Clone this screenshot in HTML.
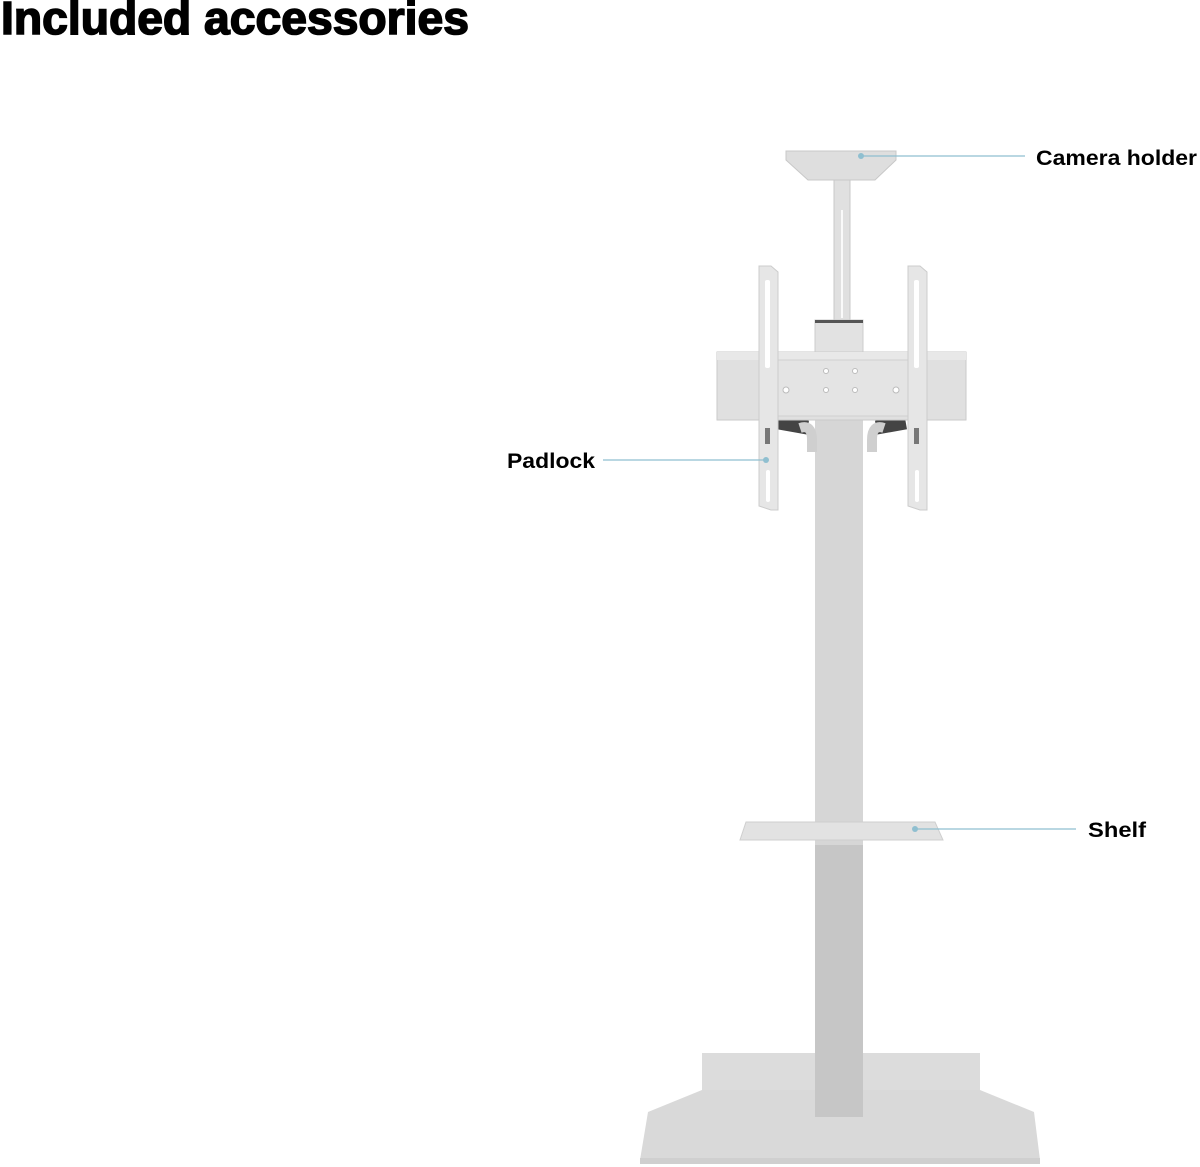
<!DOCTYPE html>
<html><head><meta charset="utf-8"><style>
html,body{margin:0;padding:0;background:#fff;}
svg{display:block;}
text{font-family:"Liberation Sans",sans-serif;font-weight:bold;fill:#000;}
</style></head><body>
<svg width="1200" height="1167" viewBox="0 0 1200 1167" xmlns="http://www.w3.org/2000/svg">
<text x="1" y="34" font-size="46" textLength="468" lengthAdjust="spacingAndGlyphs" stroke="#000" stroke-width="1.6">Included accessories</text>

<!-- base -->
<rect x="702" y="1053" width="278" height="42" fill="#dcdcdc"/>
<polygon points="702,1090 980,1090 1034,1112 1040,1160 640,1160 648,1112" fill="#d9d9d9"/>
<rect x="640" y="1158" width="400" height="6" fill="#cfcfcf"/>

<!-- column -->
<rect x="815" y="420" width="48" height="697" fill="#d6d6d6"/>
<rect x="815" y="845" width="48" height="272" fill="#c6c6c6"/>

<!-- shelf -->
<polygon points="746,822 935,822 943,840 740,840" fill="#e2e2e2" stroke="#cfcfcf" stroke-width="1"/>

<!-- camera holder -->
<rect x="834" y="162" width="16" height="160" fill="#e0e0e0" stroke="#c8c8c8"/>
<line x1="842" y1="210" x2="842" y2="318" stroke="#fafafa" stroke-width="2"/>
<polygon points="786,151 896,151 896,160 875,180 808,180 786,160" fill="#dedede" stroke="#c8c8c8"/>

<!-- upper column block -->
<rect x="815" y="320" width="48" height="34" fill="#e2e2e2" stroke="#cccccc"/>
<rect x="815" y="320" width="48" height="3" fill="#555"/>

<!-- rubber parts -->
<rect x="778" y="418" width="30" height="14" fill="#444" transform="rotate(10 793 425)"/>
<rect x="876" y="418" width="30" height="14" fill="#444" transform="rotate(-10 891 425)"/>
<path d="M800 428 q12 -4 12 12 v12" stroke="#cfcfcf" stroke-width="10" fill="none"/>
<path d="M884 428 q-12 -4 -12 12 v12" stroke="#cfcfcf" stroke-width="10" fill="none"/>

<!-- crossbar -->
<rect x="717" y="352" width="249" height="68" fill="#e0e0e0" stroke="#cacaca"/>
<rect x="717" y="352" width="249" height="8" fill="#e8e8e8"/>
<rect x="778" y="360" width="130" height="56" fill="#e4e4e4" stroke="#d0d0d0"/>
<g fill="#fff" stroke="#bbb">
<circle cx="786" cy="390" r="3"/><circle cx="896" cy="390" r="3"/>
<circle cx="826" cy="371" r="2.5"/><circle cx="855" cy="371" r="2.5"/>
<circle cx="826" cy="390" r="2.5"/><circle cx="855" cy="390" r="2.5"/>
</g>

<!-- brackets -->
<polygon points="759,266 771,266 778,272 778,510 771,510 759,506" fill="#e6e6e6" stroke="#cccccc"/>
<polygon points="908,266 920,266 927,272 927,510 920,510 908,506" fill="#e6e6e6" stroke="#cccccc"/>
<g fill="#fff">
<rect x="765" y="280" width="5" height="88" rx="2"/>
<rect x="914" y="280" width="5" height="88" rx="2"/>
<rect x="766" y="470" width="4" height="32" rx="2"/>
<rect x="915" y="470" width="4" height="32" rx="2"/>
</g>
<g fill="#777">
<rect x="765" y="428" width="5" height="16"/>
<rect x="914" y="428" width="5" height="16"/>
</g>

<!-- leader lines -->
<g stroke="#8fbfd0" stroke-width="1.2">
<line x1="861" y1="156" x2="1025" y2="156"/>
<line x1="603" y1="460" x2="766" y2="460"/>
<line x1="915" y1="829" x2="1076" y2="829"/>
</g>
<g fill="#8fbfd0">
<circle cx="861" cy="156" r="3"/>
<circle cx="766" cy="460" r="3"/>
<circle cx="915" cy="829" r="3"/>
</g>

<text x="1036" y="165" font-size="21" textLength="161" lengthAdjust="spacingAndGlyphs">Camera holder</text>
<text x="507" y="468" font-size="21" textLength="88" lengthAdjust="spacingAndGlyphs">Padlock</text>
<text x="1088" y="837" font-size="21" textLength="58" lengthAdjust="spacingAndGlyphs">Shelf</text>
</svg>
</body></html>
